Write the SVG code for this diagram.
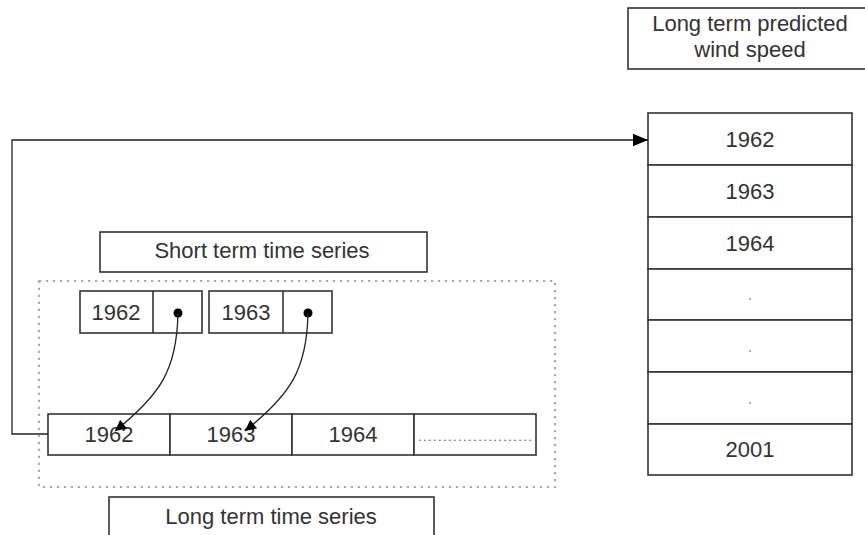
<svg xmlns="http://www.w3.org/2000/svg" width="865" height="535" viewBox="0 0 865 535">
  <style>
    .box { fill: #ffffff; stroke: #333333; stroke-width: 1.6; }
    .lbl { font-family: "Liberation Sans", Arial, sans-serif; font-size: 22px; fill: #333333; text-anchor: middle; }
    .dim { fill: #999999; font-size: 16px; }
    .wire { fill: none; stroke: #222222; stroke-width: 1.3; }
    .group { fill: none; stroke: #aaaaaa; stroke-width: 2.2; stroke-dasharray: 2.2 4.8; }
  </style>
  <defs>
    <marker id="tri" viewBox="0 0 10 10" refX="10" refY="5" markerWidth="12" markerHeight="11" markerUnits="userSpaceOnUse" orient="auto">
      <path d="M0,0 L10,5 L0,10 z" fill="#000000"/>
    </marker>
    <marker id="tri-big" viewBox="0 0 12 10" refX="12" refY="5" markerWidth="15" markerHeight="13" markerUnits="userSpaceOnUse" orient="auto">
      <path d="M0,0 L12,5 L0,10 z" fill="#000000"/>
    </marker>
  </defs>

  <!-- dotted grouping frame -->
  <rect id="series-frame" class="group" x="39" y="281" width="516" height="206"/>

  <!-- heading: long term prediction -->
  <g id="predicted-title">
    <rect class="box" x="628" y="8" width="244" height="61"/>
    <text class="lbl" x="750" y="31">Long term predicted</text>
    <text class="lbl" x="750" y="57">wind speed</text>
  </g>

  <!-- predicted wind speed column -->
  <g id="predicted-column">
    <rect class="box" x="648" y="113" width="204" height="52"/>
    <text class="lbl" x="750" y="147">1962</text>
    <rect class="box" x="648" y="165" width="204" height="52"/>
    <text class="lbl" x="750" y="199">1963</text>
    <rect class="box" x="648" y="217" width="204" height="52"/>
    <text class="lbl" x="750" y="251">1964</text>
    <rect class="box" x="648" y="269" width="204" height="51"/>
    <text class="lbl dim" x="750" y="300">.</text>
    <rect class="box" x="648" y="320" width="204" height="52"/>
    <text class="lbl dim" x="750" y="352">.</text>
    <rect class="box" x="648" y="372" width="204" height="52"/>
    <text class="lbl dim" x="750" y="404">.</text>
    <rect class="box" x="648" y="424" width="204" height="51"/>
    <text class="lbl" x="750" y="457">2001</text>
  </g>

  <!-- short term series label -->
  <g id="short-term-title">
    <rect class="box" x="100" y="232" width="327" height="40"/>
    <text class="lbl" x="262" y="258">Short term time series</text>
  </g>

  <!-- short term records -->
  <g id="short-1962">
    <rect class="box" x="80" y="291" width="122" height="42"/>
    <line class="box" x1="153" y1="291" x2="153" y2="333"/>
    <text class="lbl" x="116" y="320">1962</text>
    <circle cx="178" cy="313" r="4.5" fill="#000000"/>
  </g>
  <g id="short-1963">
    <rect class="box" x="209" y="291" width="123" height="42"/>
    <line class="box" x1="283" y1="291" x2="283" y2="333"/>
    <text class="lbl" x="246" y="320">1963</text>
    <circle cx="308" cy="313" r="4.5" fill="#000000"/>
  </g>

  <!-- long term series row -->
  <g id="long-term-row">
    <rect class="box" x="48" y="414" width="122" height="41"/>
    <text class="lbl" x="109" y="442">1962</text>
    <rect class="box" x="170" y="414" width="122" height="41"/>
    <text class="lbl" x="231" y="442">1963</text>
    <rect class="box" x="292" y="414" width="122" height="41"/>
    <text class="lbl" x="353" y="442">1964</text>
    <rect class="box" x="414" y="414" width="122" height="41"/>
    <text x="418" y="441" style="font-family:'Liberation Sans', Arial, sans-serif; font-size:13px; letter-spacing:1.4px; fill:#555555">.......................</text>
  </g>

  <!-- long term series label -->
  <g id="long-term-title">
    <rect class="box" x="109" y="497" width="325" height="50"/>
    <text class="lbl" x="271" y="524">Long term time series</text>
  </g>

  <!-- connectors -->
  <g id="connectors">
    <path class="wire" d="M48,434 H12 V140 H648" marker-end="url(#tri-big)" stroke-width="1.5"/>
    <path class="wire" d="M178,313 C177,370 160,395 115,431" marker-end="url(#tri)"/>
    <path class="wire" d="M308,313 C307,370 290,395 245,431" marker-end="url(#tri)"/>
  </g>
</svg>
